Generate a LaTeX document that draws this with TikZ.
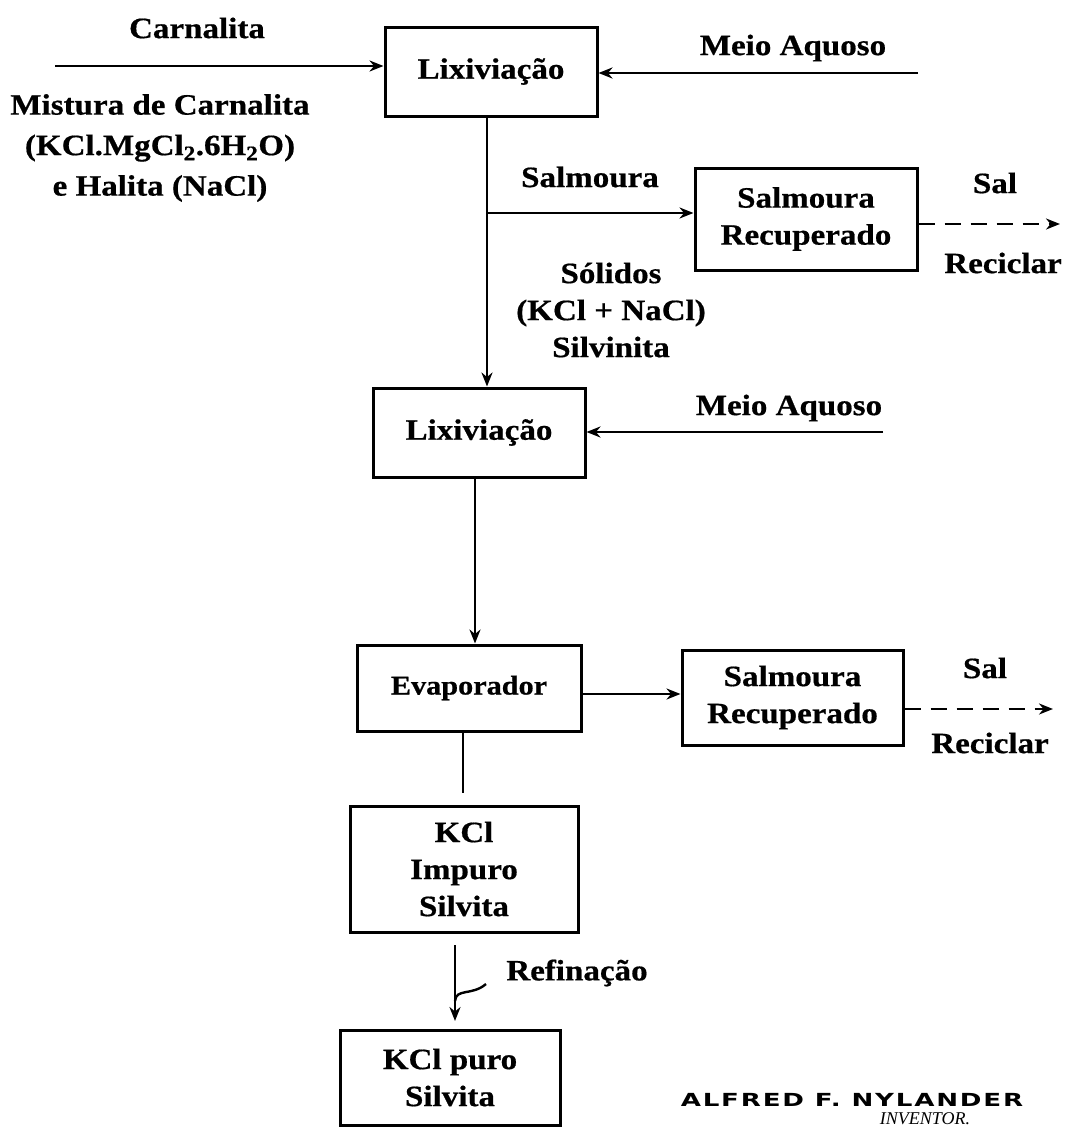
\documentclass[tikz,border=0pt]{standalone}
\usepackage{fontspec}
\setmainfont{Liberation Serif}[FakeStretch=1.12,BoldFeatures={FakeBold=0.6}]
\newfontfamily\signfont{DejaVu Sans}[FakeStretch=1.45,LetterSpace=10]
\newfontfamily\invfont{Liberation Serif}
\usetikzlibrary{arrows.meta}
\tikzset{
  x=1pt, y=-1pt,
  box/.style={draw, line width=3pt, align=center, inner sep=0pt,
    font=\fontsize{29.5}{37}\selectfont\bfseries},
  lbl/.style={align=center, inner sep=0pt,
    font=\fontsize{29.5}{37}\selectfont\bfseries},
  flow/.style={line width=2.6pt, -{Stealth[length=14pt,width=11pt]}},
  plain/.style={line width=2.6pt},
  recycle/.style={line width=2.6pt, dash pattern=on 16pt off 10pt,
    -{Stealth[length=14pt,width=11pt]}},
}
\begin{document}
\begin{tikzpicture}
\useasboundingbox[fill=white] (0,0) rectangle (1067,1130);

% process boxes
\node[box, minimum width=212pt, minimum height=89pt] (lix1) at (491,71.5) {Lixiviação};
\node[box, minimum width=222pt, minimum height=102pt] (rec1) at (806,219) {Salmoura\\Recuperado};
\node[box, minimum width=212pt, minimum height=89pt] (lix2) at (479,432.5) {Lixiviação};
\node[box, minimum width=224pt, minimum height=86pt,
      font=\fontsize{27}{34}\selectfont\bfseries] (evap) at (469,688) {Evaporador};
\node[box, minimum width=221pt, minimum height=95pt] (rec2) at (792.5,697.5) {Salmoura\\Recuperado};
\node[box, minimum width=228pt, minimum height=126pt] (impuro) at (464,869) {KCl\\Impuro\\Silvita};
\node[box, minimum width=220pt, minimum height=95pt] (puro) at (450,1077.5) {KCl puro\\Silvita};

% labels
\node[lbl] (carn) at (197,28) {Carnalita};
\node[lbl, font=\fontsize{29.5}{40.5}\selectfont\bfseries] (mist) at (160,148)
  {Mistura de Carnalita\\(KCl.MgCl\textsubscript{2}.6H\textsubscript{2}O)\\e Halita (NaCl)};
\node[lbl] (meio1) at (793,48) {Meio Aquoso};
\node[lbl] (salm) at (590,177) {Salmoura};
\node[lbl] (sal1) at (995,183) {Sal};
\node[lbl] (recic1) at (1003,263) {Reciclar};
\node[lbl] (solid) at (611,310) {Sólidos\\(KCl + NaCl)\\Silvinita};
\node[lbl] (meio2) at (789,408) {Meio Aquoso};
\node[lbl] (sal2) at (985,668) {Sal};
\node[lbl] (recic2) at (990,743) {Reciclar};
\node[lbl] (refin) at (577,973) {Refinação};

% free ends of the feed and recycle lines
\coordinate (feed) at (55,66);
\coordinate (water1) at (918,73);
\coordinate (water2) at (883,432);
\coordinate (split) at (487,213);
\coordinate (out1) at (1060,224);
\coordinate (out2) at (1053,709);
\coordinate (evout) at (581,694);
\coordinate (drop) at (463,793);
\coordinate (refA) at (455,945);
\coordinate (refB) at (455,1021);
\coordinate (tick) at (455,1001);

% connectors
\draw[flow] (feed) -- (feed -| lix1.west);
\draw[flow] (water1) -- (water1 -| lix1.east);
\draw[flow] (lix1.south -| split) -- (lix2.north -| split);
\draw[flow] (split) -- (split -| rec1.west);
\draw[recycle] (rec1.east |- out1) -- (out1);
\draw[flow] (water2) -- (water2 -| lix2.east);
\draw[flow] ([xshift=-4pt]lix2.south) -- ([xshift=6pt]evap.north);
\draw[flow] (evap.east |- evout) -- (rec2.west |- evout);
\draw[recycle] (rec2.east |- out2) -- (out2);
\draw[plain] ([xshift=-6pt]evap.south) -- (drop);
\draw[flow] (refA) -- (refB);
\draw[line width=2.4pt] (tick) .. controls (456,988) and (472,996) .. (486,984);

% signature
\node[inner sep=0pt, font=\signfont\bfseries\fontsize{18}{18}\selectfont] (name) at (852,1100) {ALFRED F. NYLANDER};
\node[inner sep=0pt, font=\invfont\itshape\fontsize{18}{18}\selectfont] (inv) at (925,1119) {INVENTOR.};
\end{tikzpicture}
\end{document}
